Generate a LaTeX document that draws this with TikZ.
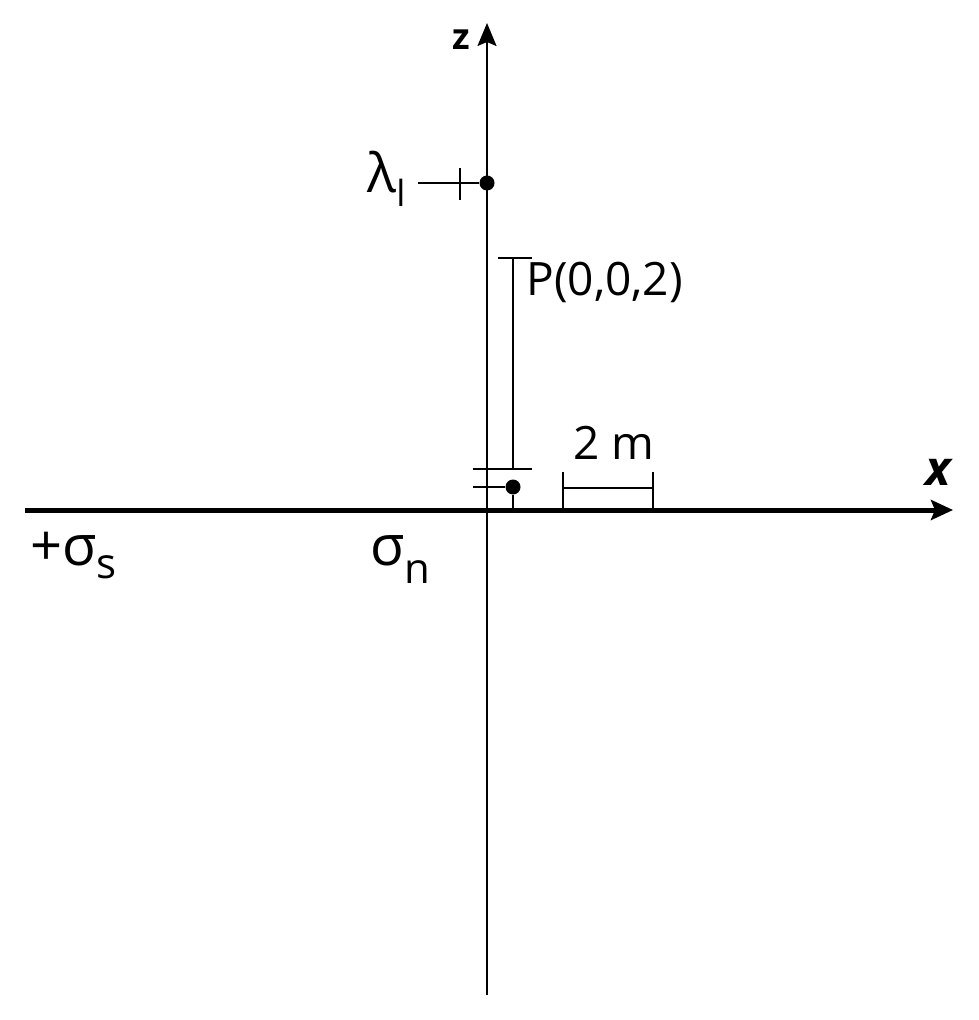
\documentclass[tikz,border=0pt]{standalone}
\usepackage{fontspec}
\setmainfont{Open Sans}
\usetikzlibrary{arrows.meta}
\newcommand{\lowsub}[3]{\raisebox{-#1}{\fontsize{#2}{#2}\selectfont #3}}
\begin{document}
\begin{tikzpicture}[x=0.5pt, y=-0.5pt,
    lbl/.style={font=\fontsize{23}{27}\selectfont, inner sep=0pt},
    big/.style={font=\fontsize{28}{32}\selectfont, inner sep=0pt},
    dot/.style={circle, fill=black, inner sep=0pt, minimum size=7.5pt},
    thin line/.style={line width=0.6pt}]
    \useasboundingbox (0,0) rectangle (978,1020);

    % the ends of both axes
    \coordinate (zbot) at (487,995);
    \coordinate (ztop) at (487,23);
    \coordinate (xleft) at (25,510);
    \coordinate (xright) at (953,510);

    % the z axis
    \draw[line width=1pt, -{Stealth[length=11.5pt,width=9.5pt,inset=2pt]}] (zbot) -- (ztop);
    % the x axis
    \draw[line width=2.5pt, -{Stealth[length=11pt,width=10pt,inset=2pt]}] (xleft) -- (xright);

    % The axis labels -> z and x
    \node[inner sep=0pt, font=\fontsize{18}{20}\selectfont\bfseries] (zlab) at (461,40) {z};
    \node[inner sep=0pt, font=\fontsize{24}{28}\selectfont\bfseries\itshape] (xlab) at (938,472) {x};

    % the line charge on the z axis
    \node[dot] (ldot) at (487,183) {};
    \node[inner sep=0pt, font=\fontsize{27}{30}\selectfont, anchor=base west] (lam) at (367,193) {λ\lowsub{7pt}{18}{l}};
    \coordinate (lstart) at (418,183);
    \draw[thin line] (lstart) -- (ldot);
    % the tick on that line
    \draw[thin line] (460,168) -- (460,200);

    % the point P and its height
    \node[dot] (pdot) at (513,487) {};
    \coordinate (htop) at (513,258);
    \coordinate (hbot) at (513,469);
    \draw[thin line] (htop) -- (hbot);
    \draw[thin line] (498,258) -- (532,258);
    \draw[thin line] (473,469) -- (532,469);
    \draw[thin line] (473,487) -- (pdot);
    \draw[thin line] (pdot) -- (513,510);
    \node[lbl, anchor=base west] (plab) at (526,296) {P(0,0,2)};

    % the scale bar -> 2 m
    \coordinate (sl) at (563,488);
    \coordinate (sr) at (653,488);
    \draw[thin line] (sl) -- (sr);
    \foreach \x in {563,653}
    \draw[thin line] (\x,472) -- (\x,510);
    \node[lbl] (scale) at (614,443) {2 m};

    % the surface charges
    \node[big, anchor=base west] (sigs) at (30,565) {+σ\lowsub{6.5pt}{21}{s}};
    \node[big, anchor=base west] (sign) at (370,565) {σ\lowsub{9pt}{21}{n}};
\end{tikzpicture}
\end{document}
